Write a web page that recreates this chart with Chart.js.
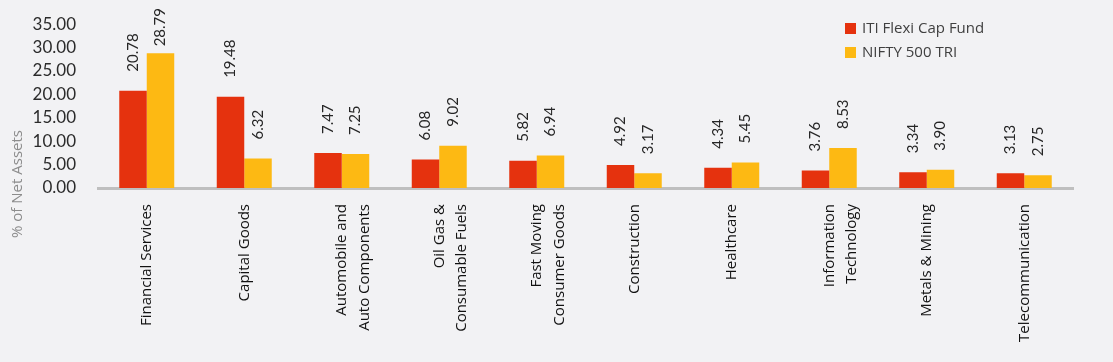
<!DOCTYPE html>
<html lang="en">
<head>
<meta charset="UTF-8" />
<title>Sector Allocation</title>
<style>
  body {
    margin: 0;
    padding: 0;
    background: #f2f2f4;
    font-family: 'Open Sans', sans-serif;
  }
  #wrap {
    position: relative;
    width: 1113px;
    height: 362px;
  }
  #legend {
    position: absolute;
    left: 845px;
    top: 15px;
    font-size: 15px;
    color: #404040;
    line-height: 24px;
  }
  #legend span.sw {
    display: inline-block;
    width: 11px;
    height: 11px;
    margin-right: 6px;
    vertical-align: -1px;
  }
</style>
</head>
<body>
<div id="wrap">
  <canvas id="sectorChart" width="1113" height="362"></canvas>
  <div id="legend"></div>
</div>

<script src="https://cdn.jsdelivr.net/npm/chart.js"></script>
<script>
// chart data
const sectors = [
  'Financial Services',
  'Capital Goods',
  ['Automobile and', 'Auto Components'],
  ['Oil Gas &', 'Consumable Fuels'],
  ['Fast Moving', 'Consumer Goods'],
  'Construction',
  'Healthcare',
  ['Information', 'Technology'],
  'Metals & Mining',
  'Telecommunication'
];
const fundValues = [20.78, 19.48, 7.47, 6.08, 5.82, 4.92, 4.34, 3.76, 3.34, 3.13];
const indexValues = [28.79, 6.32, 7.25, 9.02, 6.94, 3.17, 5.45, 8.53, 3.90, 2.75];
const seriesNames = ['ITI Flexi Cap Fund', 'NIFTY 500 TRI'];
const seriesColors = ['#e5320e', '#fdb913'];
const yTitle = '% of Net Assets';

(() => {
  const ctx = document.getElementById('sectorChart').getContext('2d');

  // rotated value labels above each bar
  const valueLabels = {
    id: 'valueLabels',
    afterDatasetsDraw(chart) {
      const c = chart.ctx;
      c.save();
      c.font = '15px Lato, sans-serif';
      c.fillStyle = '#262626';
      c.textAlign = 'left';
      c.textBaseline = 'middle';
      chart.data.datasets.forEach((ds, i) => {
        chart.getDatasetMeta(i).data.forEach((bar, j) => {
          const txt = ds.data[j].toFixed(2);
          const w = c.measureText(txt).width;
          let y = bar.y - 19;
          if (y - w < 8) y = 8 + w; // keep inside the top edge
          c.save();
          c.translate(bar.x, y);
          c.rotate(-Math.PI / 2);
          c.fillText(txt, 0, 0);
          c.restore();
        });
      });
      c.restore();
    }
  };

  // y axis title, sits lower than the plot centre as in the source
  const axisTitle = {
    id: 'axisTitle',
    afterDraw(chart) {
      const c = chart.ctx;
      c.save();
      c.font = '15px "Open Sans", sans-serif';
      c.fillStyle = '#8c8c8c';
      c.textAlign = 'center';
      c.textBaseline = 'middle';
      c.translate(18, 184);
      c.rotate(-Math.PI / 2);
      c.fillText(yTitle, 0, 0);
      c.restore();
    }
  };

  new Chart(ctx, {
    type: 'bar',
    data: {
      labels: sectors,
      datasets: [
        { label: seriesNames[0], data: fundValues, backgroundColor: seriesColors[0] },
        { label: seriesNames[1], data: indexValues, backgroundColor: seriesColors[1] }
      ]
    },
    options: {
      responsive: false,
      animation: false,
      layout: { padding: { top: 23, right: 40, left: 0, bottom: 0 } },
      datasets: {
        bar: { categoryPercentage: 0.564, barPercentage: 1 }
      },
      plugins: {
        legend: { display: false },
        tooltip: { enabled: false }
      },
      scales: {
        x: {
          grid: { display: false },
          border: { display: true, color: '#bfbfbf', width: 3 },
          ticks: {
            color: '#111111',
            font: { family: 'Open Sans', size: 15, lineHeight: 1.5 },
            minRotation: 90,
            maxRotation: 90,
            padding: 8,
            autoSkip: false
          },
          afterFit(scale) { scale.height = 174; }
        },
        y: {
          min: 0,
          max: 35,
          grid: { display: false },
          border: { display: false },
          ticks: {
            stepSize: 5,
            color: '#2b2b2b',
            font: { family: 'Lato', size: 17 },
            padding: 14,
            callback: v => v.toFixed(2)
          },
          afterFit(scale) { scale.width = 98; }
        }
      }
    },
    plugins: [valueLabels, axisTitle]
  });

  // legend
  const legend = document.getElementById('legend');
  seriesNames.forEach((name, i) => {
    const row = document.createElement('div');
    row.innerHTML = '<span class="sw" style="background:' + seriesColors[i] + '"></span>' + name;
    legend.appendChild(row);
  });
})();
</script>
</body>
</html>
